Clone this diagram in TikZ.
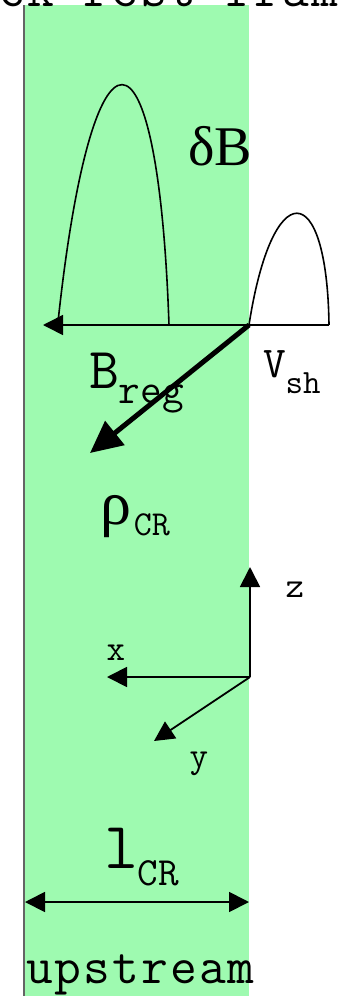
\documentclass[tikz,border=0pt]{standalone}
\usepackage{fontspec}
\usetikzlibrary{arrows.meta}
\newfontfamily\monof{Latin Modern Mono}
\newfontfamily\monosp{Latin Modern Mono}[LetterSpace=4]
\newfontfamily\seriff{Liberation Serif}
\definecolor{cgreen}{RGB}{158,250,176}
\definecolor{cedge}{RGB}{100,100,100}
\tikzset{
  thinline/.style={line width=1.6pt, black},
  axisline/.style={line width=1.8pt, black, -{Triangle[length=20pt,width=20pt]}},
  lbl/.style={inner sep=0pt, outer sep=0pt},
}
\begin{document}
\begin{tikzpicture}[x=1pt,y=-1pt]
\useasboundingbox (0,0) rectangle (338,996);
\clip (0,0) rectangle (338,996);
% shocked region
\fill[cgreen] (25,5) rectangle (249,996);
\draw[cedge, line width=2pt] (24,5) -- (24,996);
% title (clipped at the top edge, as in the reference)
\node[lbl, anchor=base west] (title) at (-88,6) {\monosp\fontsize{52}{52}\selectfont shock rest frame};
% field lines
\coordinate (O) at (249,325);
\coordinate (Bt) at (43,325);
\coordinate (Ve) at (329,325);
\coordinate (Ls) at (58,322);
\coordinate (Le) at (169,325);
\coordinate (R) at (90,453);
\draw[thinline, -{Triangle[length=20pt,width=20pt]}] (O) -- (Bt);
\draw[thinline] (O) -- (Ve);
\draw[thinline] (Ls) .. controls (92,5) and (158,5) .. (Le);
\draw[thinline] (O) .. controls (272,176) and (327,176) .. (Ve);
\draw[line width=5pt, -{Triangle[length=32pt,width=30pt]}] (O) -- (R);
% labels
\node[lbl, anchor=base west] (dB) at (188,165) {\seriff\fontsize{56}{56}\selectfont δB};
\node[lbl, anchor=base west] (Breg) at (89,388) {\monof\fontsize{58}{58}\selectfont B\raisebox{-15pt}{\fontsize{42}{42}\selectfont reg}};
\node[lbl, anchor=base west] (Vsh) at (263,377) {\monof\fontsize{44}{44}\selectfont V\raisebox{-16pt}{\fontsize{34}{34}\selectfont sh}};
\node[lbl, anchor=base west] (rho) at (100,524) {\seriff\fontsize{62}{62}\selectfont ρ\kern3pt\raisebox{-11pt}{\monof\fontsize{35}{35}\selectfont CR}};
% axes
\coordinate (A) at (250,677);
\coordinate (Az) at (250,567);
\coordinate (Ax) at (107,677);
\coordinate (Ay) at (154,741);
\draw[axisline] (A) -- (Az);
\draw[axisline] (A) -- (Ax);
\draw[axisline] (A) -- (Ay);
\node[lbl, anchor=base] (zl) at (295,597) {\monof\fontsize{36}{36}\selectfont z};
\node[lbl, anchor=base] (xl) at (116,660) {\monof\fontsize{36}{36}\selectfont x};
\node[lbl, anchor=base] (yl) at (199,767) {\monof\fontsize{36}{36}\selectfont y};
% width
\node[lbl, anchor=base west] (lcr) at (104,868) {\monof\fontsize{66}{66}\selectfont l\raisebox{-17pt}{\fontsize{40}{40}\selectfont CR}};
\coordinate (W1) at (25,902);
\coordinate (W2) at (249,902);
\draw[line width=1.8pt, {Triangle[length=20pt,width=20pt]}-{Triangle[length=20pt,width=20pt]}] (W1) -- (W2);
\node[lbl, anchor=base west] (up) at (26,983) {\monosp\fontsize{52}{52}\selectfont upstream};
\end{tikzpicture}
\end{document}
